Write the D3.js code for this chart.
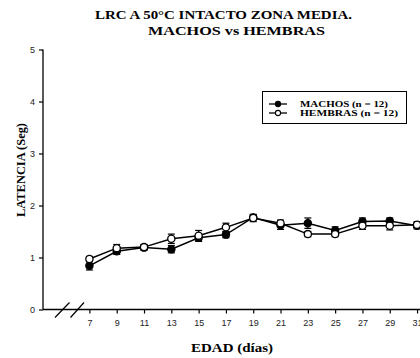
<!DOCTYPE html>
<html>
<head>
<meta charset="utf-8">
<script src="https://cdn.jsdelivr.net/npm/d3@7"></script>
<style>
body { margin: 0; background: #fff; }
svg { display: block; }
</style>
</head>
<body>
<div class="chart-container"></div>
<script>
var width = 420;
var height = 358;

// Data
var ages = [7, 9, 11, 13, 15, 17, 19, 21, 23, 25, 27, 29, 31];
var machos = [0.84, 1.12, 1.19, 1.16, 1.38, 1.44, 1.77, 1.62, 1.66, 1.52, 1.69, 1.70, 1.61];
var machosErr = [0.08, 0.06, 0.05, 0.07, 0.07, 0.06, 0.05, 0.08, 0.10, 0.07, 0.07, 0.06, 0.06];
var hembras = [0.97, 1.18, 1.20, 1.36, 1.42, 1.58, 1.76, 1.66, 1.45, 1.45, 1.61, 1.61, 1.63];
var hembrasErr = [0.05, 0.07, 0.05, 0.09, 0.10, 0.08, 0.07, 0.06, 0.05, 0.05, 0.07, 0.08, 0.06];
var yTicks = [0, 1, 2, 3, 4, 5];
var legendLabels = ['MACHOS (n = 12)', 'HEMBRAS (n = 12)'];

var serif = "'Liberation Serif', 'DejaVu Serif', serif";
var sans = "'Liberation Sans', Arial, sans-serif";

var svg = d3.select('.chart-container')
    .append('svg')
    .attr('width', width)
    .attr('height', height);

var xScale = d3.scaleLinear().domain([3.6, 32]).range([43, 430.7]);
var yScale = d3.scaleLinear().domain([0, 5]).range([309.5, 49.5]);

// helper for bold serif text stretched to the width seen in the picture
function serifText(x, y, size, len, str) {
    return svg.append('text')
        .attr('x', x).attr('y', y)
        .attr('text-anchor', 'middle')
        .attr('textLength', len)
        .attr('lengthAdjust', 'spacingAndGlyphs')
        .style('font-family', serif).style('font-weight', 'bold').style('font-size', size + 'px')
        .text(str);
}

// Title
serifText(223.5, 18.5, 13.5, 257, 'LRC A 50°C INTACTO ZONA MEDIA.');
serifText(236.5, 34.5, 13.5, 177, 'MACHOS vs HEMBRAS');

// Y axis
var yAxis = d3.axisLeft(yScale).tickValues(yTicks).tickSize(4).tickPadding(4).tickFormat(d3.format('d'));
var gy = svg.append('g')
    .attr('transform', 'translate(43, 0)')
    .call(yAxis);
gy.select('.domain').attr('d', 'M0,' + yScale(5) + 'V' + yScale(0)).attr('stroke-width', 1.3);
gy.selectAll('line').attr('stroke-width', 1.2);
gy.selectAll('text').style('font-family', sans).style('font-size', '9px').attr('fill', '#222');

// X axis
var xAxis = d3.axisBottom(xScale).tickValues(ages).tickSize(4).tickPadding(6);
var gx = svg.append('g')
    .attr('transform', 'translate(0,' + yScale(0) + ')')
    .call(xAxis);
gx.select('.domain').attr('d', 'M43,0H431').attr('stroke-width', 1.3);
gx.selectAll('line').attr('stroke-width', 1.2);
gx.selectAll('text').style('font-family', sans).style('font-size', '9px').attr('fill', '#222');

// Axis break marks
[[55, 69.5], [70.5, 84]].forEach(function (b) {
    svg.append('line')
        .attr('x1', b[0]).attr('y1', 317.5)
        .attr('x2', b[1]).attr('y2', 302.5)
        .attr('stroke', '#000').attr('stroke-width', 1.2);
});

// Axis labels
serifText(0, 0, 12, 94, 'LATENCIA (Seg)')
    .attr('transform', 'translate(24.5,170) rotate(-90)');
serifText(232, 352, 12.5, 82, 'EDAD (días)');

// Series
var series = [
    { values: machos, err: machosErr, fill: '#000' },
    { values: hembras, err: hembrasErr, fill: '#fff' }
];

var line = d3.line()
    .x(function (d, i) { return xScale(ages[i]); })
    .y(function (d) { return yScale(d); });

series.forEach(function (s) {
    var g = svg.append('g');
    // error bars
    s.values.forEach(function (v, i) {
        var x = xScale(ages[i]);
        var top = yScale(v + s.err[i]);
        var bot = yScale(v - s.err[i]);
        g.append('line').attr('x1', x).attr('x2', x).attr('y1', top).attr('y2', bot)
            .attr('stroke', '#000').attr('stroke-width', 1.2);
        g.append('line').attr('x1', x - 3.5).attr('x2', x + 3.5).attr('y1', top).attr('y2', top)
            .attr('stroke', '#000').attr('stroke-width', 1.2);
        g.append('line').attr('x1', x - 3.5).attr('x2', x + 3.5).attr('y1', bot).attr('y2', bot)
            .attr('stroke', '#000').attr('stroke-width', 1.2);
    });
    g.append('path')
        .datum(s.values)
        .attr('d', line)
        .attr('fill', 'none')
        .attr('stroke', '#000')
        .attr('stroke-width', 1.5);
    s.g = g;
});

series.forEach(function (s) {
    s.g.selectAll('circle')
        .data(s.values)
        .enter()
        .append('circle')
        .attr('cx', function (d, i) { return xScale(ages[i]); })
        .attr('cy', function (d) { return yScale(d); })
        .attr('r', 3.6)
        .attr('fill', s.fill)
        .attr('stroke', '#000')
        .attr('stroke-width', 1.3);
});

// Legend
var legend = svg.append('g');
legend.append('rect')
    .attr('x', 262.5).attr('y', 91.5)
    .attr('width', 144).attr('height', 32)
    .attr('fill', '#fff').attr('stroke', '#000').attr('stroke-width', 1);
var legendLen = [88, 98];
series.forEach(function (s, i) {
    var y = 104 + i * 9;
    legend.append('line').attr('x1', 269).attr('x2', 287).attr('y1', y).attr('y2', y)
        .attr('stroke', '#000').attr('stroke-width', 1.3);
    legend.append('circle').attr('cx', 278).attr('cy', y).attr('r', 2.6)
        .attr('fill', s.fill).attr('stroke', '#000').attr('stroke-width', 1.1);
    legend.append('text')
        .attr('x', 300).attr('y', y + 3.2)
        .attr('textLength', legendLen[i])
        .attr('lengthAdjust', 'spacingAndGlyphs')
        .style('font-family', serif).style('font-weight', 'bold').style('font-size', '9px')
        .text(legendLabels[i]);
});
</script>
</body>
</html>
